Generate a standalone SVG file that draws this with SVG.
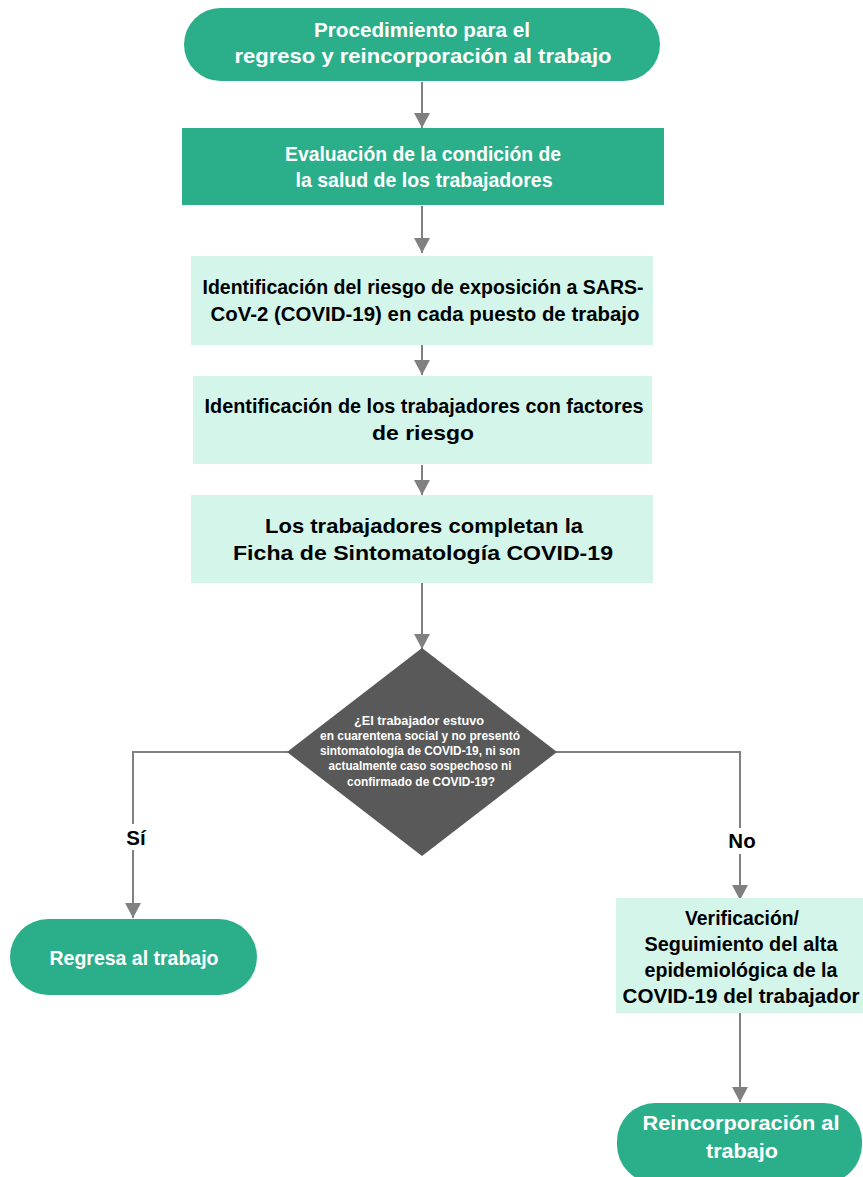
<svg xmlns="http://www.w3.org/2000/svg" width="863" height="1177" viewBox="0 0 863 1177">
<style>
.dark{fill:#2BAF8B}
.light{fill:#D3F5EA}
.dia{fill:#595959}
.t{font-family:"Liberation Sans",Arial,sans-serif;font-weight:bold;text-anchor:middle}
.w{fill:#FFFFFF}
.b{fill:#000000}
.c{stroke:#808080;stroke-width:2;fill:none}
</style>
<defs>
<marker id="ah" markerUnits="userSpaceOnUse" markerWidth="18" markerHeight="16" refX="15" refY="8" orient="auto">
<path d="M0,0 L15,8 L0,16 Z" fill="#808080"/>
</marker>
</defs>
<rect width="863" height="1177" fill="#FFFFFF"/>
<g id="connectors">
<path class="c" d="M422,82 V128" marker-end="url(#ah)"/>
<path class="c" d="M422,206 V253" marker-end="url(#ah)"/>
<path class="c" d="M422,345 V375" marker-end="url(#ah)"/>
<path class="c" d="M422,465 V495" marker-end="url(#ah)"/>
<path class="c" d="M422,583 V649" marker-end="url(#ah)"/>
<path class="c" d="M288,752 H133 V918" marker-end="url(#ah)"/>
<path class="c" d="M556,752 H740 V900" marker-end="url(#ah)"/>
<path class="c" d="M740,1013 V1102" marker-end="url(#ah)"/>
<rect x="122" y="824" width="24" height="26" fill="#FFFFFF"/>
<text class="t b" x="136" y="845" font-size="20.5">Sí</text>
<rect x="726" y="828" width="32" height="26" fill="#FFFFFF"/>
<text class="t b" x="742" y="848" font-size="20.5">No</text>
</g>
<g id="start">
<rect class="dark" x="184" y="8" width="476" height="73" rx="36.5"/>
<text class="t w" x="422" y="37" font-size="20.5" textLength="216" lengthAdjust="spacingAndGlyphs">Procedimiento para el</text>
<text class="t w" x="423" y="63" font-size="20.5" textLength="377" lengthAdjust="spacingAndGlyphs">regreso y reincorporación al trabajo</text>
</g>
<g id="evaluacion">
<rect class="dark" x="182" y="128" width="482" height="77"/>
<text class="t w" x="423" y="161" font-size="20.5" textLength="276" lengthAdjust="spacingAndGlyphs">Evaluación de la condición de</text>
<text class="t w" x="424" y="187" font-size="20.5" textLength="257" lengthAdjust="spacingAndGlyphs">la salud de los trabajadores</text>
</g>
<g id="riesgo">
<rect class="light" x="191" y="256" width="462" height="89"/>
<text class="t b" x="423" y="294" font-size="20.5" textLength="441" lengthAdjust="spacingAndGlyphs">Identificación del riesgo de exposición a SARS-</text>
<text class="t b" x="425" y="321" font-size="20.5" textLength="429" lengthAdjust="spacingAndGlyphs">CoV-2 (COVID-19) en cada puesto de trabajo</text>
</g>
<g id="factores">
<rect class="light" x="193" y="376" width="459" height="88"/>
<text class="t b" x="424" y="413" font-size="20.5" textLength="439" lengthAdjust="spacingAndGlyphs">Identificación de los trabajadores con factores</text>
<text class="t b" x="423" y="440" font-size="20.5" textLength="102" lengthAdjust="spacingAndGlyphs">de riesgo</text>
</g>
<g id="ficha">
<rect class="light" x="191" y="495" width="462" height="88"/>
<text class="t b" x="424" y="533" font-size="20.5" textLength="318" lengthAdjust="spacingAndGlyphs">Los trabajadores completan la</text>
<text class="t b" x="423" y="560" font-size="20.5" textLength="380" lengthAdjust="spacingAndGlyphs">Ficha de Sintomatología COVID-19</text>
</g>
<g id="decision">
<polygon class="dia" points="422,648 557,752 422,856 287,752"/>
<text class="t w" x="419" y="725" font-size="12.5" textLength="130" lengthAdjust="spacingAndGlyphs">¿El trabajador estuvo</text>
<text class="t w" x="420" y="740" font-size="12.5" textLength="200" lengthAdjust="spacingAndGlyphs">en cuarentena social y no presentó</text>
<text class="t w" x="420" y="755" font-size="12.5" textLength="200" lengthAdjust="spacingAndGlyphs">sintomatología de COVID-19, ni son</text>
<text class="t w" x="420" y="770" font-size="12.5" textLength="183" lengthAdjust="spacingAndGlyphs">actualmente caso sospechoso ni</text>
<text class="t w" x="421" y="786" font-size="12.5" textLength="148" lengthAdjust="spacingAndGlyphs">confirmado de COVID-19?</text>
</g>
<g id="regresa">
<rect class="dark" x="10" y="919" width="247" height="76" rx="38"/>
<text class="t w" x="134" y="965" font-size="20.5" textLength="169" lengthAdjust="spacingAndGlyphs">Regresa al trabajo</text>
</g>
<g id="verificacion">
<rect class="light" x="616" y="898" width="247" height="115"/>
<text class="t b" x="742" y="925" font-size="19.5" textLength="114" lengthAdjust="spacingAndGlyphs">Verificación/</text>
<text class="t b" x="741" y="951" font-size="19.5" textLength="193" lengthAdjust="spacingAndGlyphs">Seguimiento del alta</text>
<text class="t b" x="741" y="977" font-size="19.5" textLength="193" lengthAdjust="spacingAndGlyphs">epidemiológica de la</text>
<text class="t b" x="741" y="1003" font-size="19.5" textLength="237" lengthAdjust="spacingAndGlyphs">COVID-19 del trabajador</text>
</g>
<g id="reincorporacion">
<rect class="dark" x="617" y="1103" width="245" height="80" rx="38"/>
<text class="t w" x="741" y="1130" font-size="19.5" textLength="197" lengthAdjust="spacingAndGlyphs">Reincorporación al</text>
<text class="t w" x="742" y="1158" font-size="19.5" textLength="72" lengthAdjust="spacingAndGlyphs">trabajo</text>
</g>
</svg>
